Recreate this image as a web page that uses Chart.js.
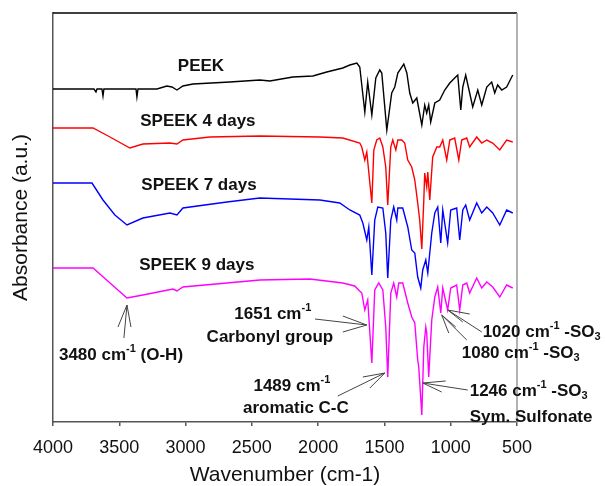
<!DOCTYPE html>
<html>
<head>
<meta charset="utf-8">
<script src="https://cdn.jsdelivr.net/npm/chart.js@4.4.1/dist/chart.umd.min.js"></script>
<style>
  html, body { margin: 0; padding: 0; background: #fff; }
  canvas { display: block; }
</style>
</head>
<body>
<canvas id="c" width="607" height="486"></canvas>
<script>
// ---------- DATA (wavenumber in cm-1, absorbance in a.u., spectra offset vertically) ----------
const xTicks = [4000, 3500, 3000, 2500, 2000, 1500, 1000, 500];
const seriesNames = ['PEEK', 'SPEEK 4 days', 'SPEEK 7 days', 'SPEEK 9 days'];

const wnPEEK = [4000,3691,3676,3668,3631,3623,3616,3374,3367,3359,3216,3141,3103,3065,3020,2945,2666,2440,2364,2191,2040,1935,1814,1761,1708,1686,1648,1626,1595,1565,1535,1520,1482,1445,1422,1399,1354,1331,1309,1286,1256,1218,1196,1181,1166,1151,1120,1083,1045,1007,970,947,924,909,887,857,834,796,766,728,691,668,646,615,578,540,532];
const absPEEK = [3.33,3.33,3.30,3.33,3.33,3.26,3.33,3.33,3.25,3.33,3.33,3.36,3.35,3.32,3.36,3.38,3.40,3.42,3.41,3.45,3.46,3.50,3.54,3.57,3.59,3.55,3.10,3.40,3.07,3.44,3.52,3.49,2.92,3.29,3.35,3.49,3.58,3.49,3.29,3.19,3.24,2.97,3.17,3.09,3.17,3.00,3.19,3.22,3.32,3.39,3.44,3.47,3.12,3.35,3.47,3.29,3.15,3.32,3.17,3.35,3.40,3.29,3.37,3.32,3.35,3.45,3.47];

const wnS4 = [4000,3698,3570,3420,3322,3118,3065,3020,2817,2440,1987,1814,1686,1671,1648,1633,1595,1580,1558,1535,1512,1490,1475,1452,1437,1414,1399,1369,1347,1324,1294,1271,1249,1234,1218,1203,1196,1181,1173,1158,1136,1105,1083,1060,1030,1007,970,939,917,879,857,804,766,728,683,630,578,532];
const absS4 = [2.94,2.94,2.85,2.74,2.78,2.79,2.78,2.82,2.85,2.86,2.85,2.84,2.79,2.75,2.62,2.70,2.19,2.72,2.82,2.84,2.75,2.55,2.17,2.75,2.82,2.72,2.82,2.82,2.79,2.62,2.55,2.42,2.19,2.02,1.73,2.22,2.49,2.35,2.50,2.22,2.65,2.75,2.75,2.82,2.62,2.82,2.84,2.62,2.82,2.84,2.75,2.85,2.79,2.82,2.79,2.72,2.82,2.80];

const wnS7 = [4000,3706,3623,3533,3442,3322,3118,3065,3020,2688,2440,1987,1837,1761,1686,1663,1633,1618,1595,1573,1550,1512,1490,1475,1452,1430,1407,1399,1362,1324,1294,1271,1249,1226,1211,1188,1173,1143,1120,1098,1075,1060,1023,1000,955,932,909,887,857,804,766,728,683,630,578,532];
const absS7 = [2.39,2.39,2.22,2.07,1.97,2.04,2.09,2.07,2.14,2.20,2.24,2.22,2.19,2.12,2.07,1.99,1.82,1.95,1.47,2.02,2.15,2.14,1.89,1.44,2.02,2.15,2.02,2.14,2.14,1.95,1.72,1.69,1.45,1.34,1.52,1.62,1.49,1.89,2.09,2.15,1.79,2.12,1.79,2.12,2.14,1.82,2.12,2.17,2.02,2.19,2.09,2.15,2.09,1.97,2.12,2.09];

const wnS9 = [4000,3698,3570,3442,3322,3095,3065,3020,2440,2063,1814,1724,1671,1648,1626,1595,1573,1543,1512,1490,1475,1452,1430,1407,1392,1362,1324,1294,1271,1249,1241,1218,1203,1188,1181,1166,1143,1120,1098,1075,1060,1023,1000,955,932,909,879,857,804,766,728,683,630,578,532];
const absS9 = [1.54,1.54,1.39,1.24,1.27,1.33,1.31,1.35,1.42,1.43,1.39,1.36,1.29,1.12,1.22,0.59,1.32,1.39,1.32,0.95,0.45,1.29,1.39,1.25,1.39,1.39,1.19,1.05,0.99,0.62,0.55,0.07,0.75,0.95,0.89,0.45,1.02,1.25,1.35,1.09,1.34,1.12,1.34,1.37,1.12,1.37,1.39,1.29,1.44,1.34,1.40,1.35,1.25,1.37,1.34];

// ---------- build ----------
function pts(wn, ab) { return wn.map((w, i) => ({ x: w, y: ab[i] })); }
const seriesColors = ['#000000', '#ff0000', '#0000ff', '#ff00ff'];
const seriesData = [pts(wnPEEK, absPEEK), pts(wnS4, absS4), pts(wnS7, absS7), pts(wnS9, absS9)];

const BOLD = 'bold 17px "Liberation Sans", Arial, sans-serif';
const SMALL = 'bold 11px "Liberation Sans", Arial, sans-serif';

// annotation texts (positions in data units: wavenumber, absorbance)
const notes = [
  { wn: 2884, a: 3.56, align: 'center', seg: [['PEEK']] },
  { wn: 2907, a: 3.01, align: 'center', seg: [['SPEEK 4 days']] },
  { wn: 2899, a: 2.37, align: 'center', seg: [['SPEEK 7 days']] },
  { wn: 2915, a: 1.57, align: 'center', seg: [['SPEEK 9 days']] },
  { wn: 3487, a: 0.67, align: 'center', seg: [['3480 cm'], ['-1', 'sup'], [' (O-H)']] },
  { wn: 2342, a: 1.08, align: 'center', seg: [['1651 cm'], ['-1', 'sup']] },
  { wn: 2364, a: 0.85, align: 'center', seg: [['Carbonyl group']] },
  { wn: 2198, a: 0.36, align: 'center', seg: [['1489 cm'], ['-1', 'sup']] },
  { wn: 2168, a: 0.14, align: 'center', seg: [['aromatic C-C']] },
  { wn: 857, a: 0.31, align: 'left', seg: [['1246 cm'], ['-1', 'sup'], [' -SO'], ['3', 'sub']] },
  { wn: 857, a: 0.05, align: 'left', seg: [['Sym. Sulfonate']] },
  { wn: 759, a: 0.90, align: 'left', seg: [['1020 cm'], ['-1', 'sup'], [' -SO'], ['3', 'sub']] },
  { wn: 917, a: 0.69, align: 'left', seg: [['1080 cm'], ['-1', 'sup'], [' -SO'], ['3', 'sub']] }
];

// arrows: tip, then tail points (two wings + shaft)
const arrows = [
  { tip: [3442, 1.17], tails: [[3510, 0.95], [3412, 0.95], [3465, 0.84]] },
  { tip: [1633, 0.97], tails: [[1814, 1.06], [1814, 0.90], [2024, 1.03]] },
  { tip: [1497, 0.49], tails: [[1663, 0.45], [1610, 0.34], [1852, 0.26]] },
  { tip: [1211, 0.39], tails: [[1038, 0.41], [1068, 0.30], [872, 0.32]] },
  { tip: [1022, 1.12], tails: [[857, 1.08], [909, 1.00], [766, 0.90]] },
  { tip: [1068, 1.07], tails: [[962, 0.95], [1015, 0.89], [879, 0.82]] }
];

const overlay = {
  id: 'overlay',
  afterDraw(chart) {
    const ctx = chart.ctx, xs = chart.scales.x, ys = chart.scales.y, ca = chart.chartArea;
    ctx.save();
    // frame: top (black) and right (gray)
    ctx.lineWidth = 1.5;
    ctx.strokeStyle = '#000';
    ctx.beginPath(); ctx.moveTo(ca.left, ca.top); ctx.lineTo(ca.right, ca.top); ctx.stroke();
    ctx.strokeStyle = '#999';
    ctx.beginPath(); ctx.moveTo(ca.right, ca.top); ctx.lineTo(ca.right, ca.bottom); ctx.stroke();

    // arrows
    ctx.strokeStyle = '#444';
    ctx.lineWidth = 1;
    arrows.forEach(ar => {
      const tx = xs.getPixelForValue(ar.tip[0]), ty = ys.getPixelForValue(ar.tip[1]);
      ar.tails.forEach(t => {
        ctx.beginPath();
        ctx.moveTo(tx, ty);
        ctx.lineTo(xs.getPixelForValue(t[0]), ys.getPixelForValue(t[1]));
        ctx.stroke();
      });
    });

    // texts
    ctx.fillStyle = '#111';
    ctx.textBaseline = 'middle';
    ctx.textAlign = 'left';
    notes.forEach(n => {
      let w = 0;
      n.seg.forEach(s => { ctx.font = s[1] ? SMALL : BOLD; w += ctx.measureText(s[0]).width; });
      let x = xs.getPixelForValue(n.wn);
      const y = ys.getPixelForValue(n.a);
      if (n.align === 'center') x -= w / 2;
      n.seg.forEach(s => {
        ctx.font = s[1] ? SMALL : BOLD;
        let dy = 0;
        if (s[1] === 'sup') dy = -6;
        if (s[1] === 'sub') dy = 5;
        ctx.fillText(s[0], x, y + dy);
        x += ctx.measureText(s[0]).width;
      });
    });
    ctx.restore();
  }
};

new Chart(document.getElementById('c'), {
  type: 'line',
  data: {
    datasets: seriesData.map((d, i) => ({
      label: seriesNames[i],
      data: d,
      borderColor: seriesColors[i],
      borderWidth: 1.4,
      pointRadius: 0,
      tension: 0,
      fill: false
    }))
  },
  options: {
    responsive: false,
    animation: false,
    devicePixelRatio: 1,
    parsing: true,
    layout: { padding: { top: 13, right: 90, left: 0, bottom: 0 } },
    plugins: { legend: { display: false }, tooltip: { enabled: false } },
    scales: {
      x: {
        type: 'linear',
        reverse: true,
        min: 500,
        max: 4000,
        afterBuildTicks(scale) { scale.ticks = xTicks.map(v => ({ value: v })); },
        afterFit(scale) { scale.height = 64; },
        ticks: {
          color: '#111',
          font: { family: '"Liberation Sans", Arial, sans-serif', size: 18 },
          padding: 11,
          maxRotation: 0,
          autoSkip: false,
          callback: v => String(v)
        },
        grid: { drawOnChartArea: false, drawTicks: true, tickLength: 4, color: '#555', lineWidth: 1.5 },
        border: { color: '#555', width: 1.5 },
        title: {
          display: true,
          text: 'Wavenumber (cm-1)',
          color: '#111',
          font: { family: '"Liberation Sans", Arial, sans-serif', size: 21, lineHeight: 1 },
          padding: { top: 1, bottom: 0 }
        }
      },
      y: {
        type: 'linear',
        min: 0,
        max: 4.09,
        afterFit(scale) { scale.width = 53; },
        ticks: { display: false },
        grid: { drawOnChartArea: false, drawTicks: false },
        border: { color: '#555', width: 1.5 },
        title: {
          display: true,
          text: 'Absorbance (a.u.)',
          color: '#111',
          font: { family: '"Liberation Sans", Arial, sans-serif', size: 21, lineHeight: 1 },
          padding: { top: 10.5, bottom: 0 }
        }
      }
    }
  },
  plugins: [overlay]
});
</script>
</body>
</html>
